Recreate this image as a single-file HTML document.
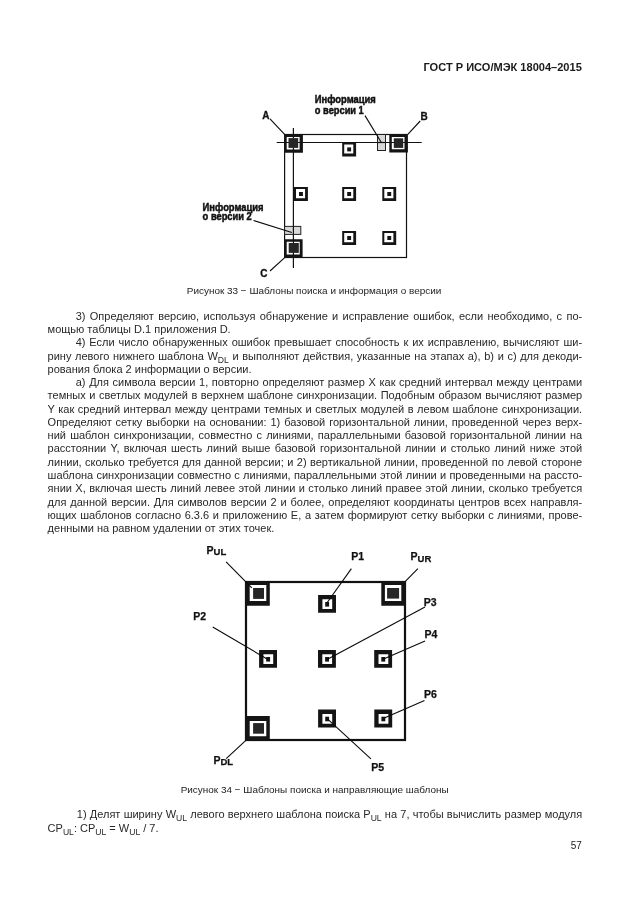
<!DOCTYPE html>
<html><head><meta charset="utf-8">
<style>
html,body{margin:0;padding:0;background:#fff;}
body{width:630px;height:913px;position:relative;overflow:hidden;font-family:"Liberation Sans",sans-serif;color:#282828;}
.ln{position:absolute;white-space:nowrap;font-size:11px;line-height:13.27px;height:13.27px;}
.ln.j{text-align:justify;text-align-last:justify;white-space:normal;}
.ln.l{text-align:left;}
sub{font-size:8.6px;vertical-align:baseline;position:relative;top:3.2px;line-height:0;}
.hdr{position:absolute;font-weight:bold;font-size:11.05px;line-height:13px;white-space:nowrap;color:#1a1a1a;}
.cap{position:absolute;font-size:9.95px;line-height:12px;white-space:nowrap;color:#222;}
.pn{position:absolute;font-size:10px;line-height:12px;white-space:nowrap;color:#222;}
svg{position:absolute;left:0;top:0;}
#pg{position:absolute;left:0;top:0;width:630px;height:913px;will-change:transform;background:#fff;}
</style></head><body><div id="pg">
<div class="hdr" style="left:423.5px;top:61.2px">ГОСТ Р ИСО/МЭК 18004–2015</div>
<svg width="630" height="913" viewBox="0 0 630 913" style="font-family:'Liberation Sans',sans-serif;font-weight:bold">
<rect x="284.6" y="134.5" width="121.9" height="123" fill="none" stroke="#111" stroke-width="1.2"/>
<line x1="276.7" y1="142.5" x2="421.7" y2="142.5" stroke="#111" stroke-width="1.2" />
<line x1="293.4" y1="128" x2="293.4" y2="268" stroke="#111" stroke-width="1.2" />
<rect x="377.5" y="134.5" width="8" height="16" fill="#d8d8d8" stroke="#222" stroke-width="1"/>
<rect x="284.6" y="226.4" width="16.2" height="8" fill="#d8d8d8" stroke="#222" stroke-width="1"/>
<line x1="377.5" y1="142.5" x2="385.5" y2="142.5" stroke="#111" stroke-width="1.2" />
<line x1="293.4" y1="226.4" x2="293.4" y2="234.4" stroke="#111" stroke-width="1.2" />
<path fill="#141414" fill-rule="evenodd" d="M284.2 134.2H302.9V152.7H284.2Z M286.7 137.1H299.6V149.4H286.7Z"/>
<rect x="288.5" y="138.1" width="9.7" height="9.8" fill="#262626"/>
<path fill="#141414" fill-rule="evenodd" d="M389.3 134.1H407.9V152.6H389.3Z M391.8 136.9H404.5V149.2H391.8Z"/>
<rect x="393.8" y="138.3" width="9.4" height="9.6" fill="#262626"/>
<path fill="#141414" fill-rule="evenodd" d="M284.2 239.2H302.6V257.8H284.2Z M286.7 241.8H299.7V254.4H286.7Z"/>
<rect x="288.7" y="243" width="10.1" height="9.9" fill="#262626"/>
<path fill="#141414" fill-rule="evenodd" d="M342.2 142.4H356.1V156.5H342.2Z M344.2 144.5H353.3V153.6H344.2Z"/><rect x="347.2" y="147.4" width="3.9" height="4.0" fill="#141414"/>
<path fill="#141414" fill-rule="evenodd" d="M294.0 187.0H307.9V201.1H294.0Z M296.0 189.1H305.1V198.2H296.0Z"/><rect x="299.0" y="192.0" width="3.9" height="4.0" fill="#141414"/>
<path fill="#141414" fill-rule="evenodd" d="M342.2 187.0H356.1V201.1H342.2Z M344.2 189.1H353.3V198.2H344.2Z"/><rect x="347.2" y="192.0" width="3.9" height="4.0" fill="#141414"/>
<path fill="#141414" fill-rule="evenodd" d="M382.3 187.0H396.2V201.1H382.3Z M384.3 189.1H393.4V198.2H384.3Z"/><rect x="387.3" y="192.0" width="3.9" height="4.0" fill="#141414"/>
<path fill="#141414" fill-rule="evenodd" d="M342.2 231.0H356.1V245.1H342.2Z M344.2 233.1H353.3V242.2H344.2Z"/><rect x="347.2" y="236.0" width="3.9" height="4.0" fill="#141414"/>
<path fill="#141414" fill-rule="evenodd" d="M382.3 231.0H396.2V245.1H382.3Z M384.3 233.1H393.4V242.2H384.3Z"/><rect x="387.3" y="236.0" width="3.9" height="4.0" fill="#141414"/>
<line x1="270" y1="118.8" x2="284.6" y2="134.4" stroke="#0a0a0a" stroke-width="1.1" />
<line x1="420.2" y1="121" x2="407.8" y2="134.3" stroke="#0a0a0a" stroke-width="1.1" />
<line x1="270" y1="271" x2="284.4" y2="257.8" stroke="#0a0a0a" stroke-width="1.1" />
<line x1="365" y1="115.6" x2="381.2" y2="142.3" stroke="#0a0a0a" stroke-width="1.1" />
<line x1="253.5" y1="220.4" x2="291.8" y2="232.4" stroke="#0a0a0a" stroke-width="1.1" />
<g fill="#111" stroke="#111" stroke-width="0.3" font-size="10">
<text x="262.2" y="118.6">A</text><text x="420.6" y="119.6">B</text><text x="260.3" y="277.3">C</text>
</g>
<g fill="#111" stroke="#111" stroke-width="0.45" font-size="10" lengthAdjust="spacingAndGlyphs">
<text x="314.8" y="102.8" textLength="61" lengthAdjust="spacingAndGlyphs">Информация</text><text x="314.8" y="113.5" textLength="49" lengthAdjust="spacingAndGlyphs">о версии 1</text>
<text x="202.6" y="210.6" textLength="61" lengthAdjust="spacingAndGlyphs">Информация</text><text x="202.6" y="220.2" textLength="49.2" lengthAdjust="spacingAndGlyphs">о версии 2</text>
</g>
<rect x="246" y="582" width="159" height="158" fill="none" stroke="#111" stroke-width="2.2"/>
<path fill="#141414" fill-rule="evenodd" d="M245.2 581.1H269.8V605.7H245.2Z M249.7 584.9H266.3V601.1H249.7Z"/>
<rect x="253.1" y="588" width="10.9" height="10.9" fill="#262626"/>
<path fill="#141414" fill-rule="evenodd" d="M381.3 581.1H405.8V605.7H381.3Z M384.9 584.9H401.3V601.1H384.9Z"/>
<rect x="387.1" y="588" width="12.0" height="10.6" fill="#262626"/>
<path fill="#141414" fill-rule="evenodd" d="M245.2 716H269.8V740.3H245.2Z M249.7 720.9H266.3V736.3H249.7Z"/>
<rect x="253.1" y="723.1" width="10.9" height="10.6" fill="#262626"/>
<path fill="#141414" fill-rule="evenodd" d="M318.1 594.9H336.0V612.7H318.1Z M322.4 599.3H332.2V609.0H322.4Z"/><rect x="325.2" y="602.0" width="3.9" height="4.6" fill="#141414"/>
<path fill="#141414" fill-rule="evenodd" d="M259.1 649.9H277.0V667.7H259.1Z M263.4 654.3H273.2V664.0H263.4Z"/><rect x="266.2" y="657.0" width="3.9" height="4.6" fill="#141414"/>
<path fill="#141414" fill-rule="evenodd" d="M318.0 649.9H335.9V667.7H318.0Z M322.3 654.3H332.1V664.0H322.3Z"/><rect x="325.1" y="657.0" width="3.9" height="4.6" fill="#141414"/>
<path fill="#141414" fill-rule="evenodd" d="M374.2 649.9H392.1V667.7H374.2Z M378.5 654.3H388.3V664.0H378.5Z"/><rect x="381.3" y="657.0" width="3.9" height="4.6" fill="#141414"/>
<path fill="#141414" fill-rule="evenodd" d="M318.1 709.6H336.0V727.4H318.1Z M322.4 714.0H332.2V723.7H322.4Z"/><rect x="325.2" y="716.7" width="3.9" height="4.6" fill="#141414"/>
<path fill="#141414" fill-rule="evenodd" d="M374.3 709.6H392.2V727.4H374.3Z M378.6 714.0H388.4V723.7H378.6Z"/><rect x="381.4" y="716.7" width="3.9" height="4.6" fill="#141414"/>
<line x1="226.1" y1="561.8" x2="251.8" y2="587.8" stroke="#0a0a0a" stroke-width="1.1" />
<line x1="417.9" y1="568.6" x2="405.6" y2="581.2" stroke="#0a0a0a" stroke-width="1.1" />
<line x1="226.2" y1="758.7" x2="245.6" y2="740.6" stroke="#0a0a0a" stroke-width="1.1" />
<line x1="351.4" y1="568.6" x2="327.2" y2="602.5" stroke="#0a0a0a" stroke-width="1.1" />
<line x1="212.7" y1="627" x2="267.5" y2="659.2" stroke="#0a0a0a" stroke-width="1.1" />
<line x1="425" y1="607.1" x2="327.5" y2="659.2" stroke="#0a0a0a" stroke-width="1.1" />
<line x1="425" y1="641" x2="383" y2="659.2" stroke="#0a0a0a" stroke-width="1.1" />
<line x1="370.9" y1="758.8" x2="327.2" y2="718.6" stroke="#0a0a0a" stroke-width="1.1" />
<line x1="424.5" y1="700.6" x2="383.2" y2="718.6" stroke="#0a0a0a" stroke-width="1.1" />
<g fill="#111" stroke="#111" stroke-width="0.25" font-size="10.5">
<text x="206.6" y="554">P<tspan font-size="9.5" dy="1.2">UL</tspan></text>
<text x="351.2" y="559.6">P1</text>
<text x="410.5" y="560">P<tspan font-size="9.5" dy="1.7">UR</tspan></text>
<text x="193.2" y="619.6">P2</text>
<text x="423.7" y="605.7">P3</text>
<text x="424.4" y="638.1">P4</text>
<text x="423.9" y="697.5">P6</text>
<text x="213.4" y="764.3">P<tspan font-size="9.5" dy="1.1">DL</tspan></text>
<text x="371.3" y="770.8">P5</text>
</g>
</svg>
<div class="cap" style="left:186.8px;top:285px">Рисунок 33 − Шаблоны поиска и информация о версии</div>
<div class="ln j" style="left:75.7px;top:309.75px;width:506.5px">3) Определяют версию, используя обнаружение и исправление ошибок, если необходимо, с по-</div>
<div class="ln l" style="left:47.6px;top:323.02px;width:534.6px">мощью таблицы D.1 приложения D.</div>
<div class="ln j" style="left:75.7px;top:336.29px;width:506.5px">4) Если число обнаруженных ошибок превышает способность к их исправлению, вычисляют ши-</div>
<div class="ln j" style="left:47.6px;top:349.56px;width:534.6px">рину левого нижнего шаблона W<sub>DL</sub> и выполняют действия, указанные на этапах а), b) и с) для декоди-</div>
<div class="ln l" style="left:47.6px;top:362.83px;width:534.6px">рования блока 2 информации о версии.</div>
<div class="ln j" style="left:75.7px;top:376.10px;width:506.5px">а) Для символа версии 1, повторно определяют размер X как средний интервал между центрами</div>
<div class="ln j" style="left:47.6px;top:389.37px;width:534.6px">темных и светлых модулей в верхнем шаблоне синхронизации. Подобным образом вычисляют размер</div>
<div class="ln j" style="left:47.6px;top:402.64px;width:534.6px">Y как средний интервал между центрами темных и светлых модулей в левом шаблоне синхронизации.</div>
<div class="ln j" style="left:47.6px;top:415.91px;width:534.6px">Определяют сетку выборки на основании: 1) базовой горизонтальной линии, проведенной через верх-</div>
<div class="ln j" style="left:47.6px;top:429.18px;width:534.6px">ний шаблон синхронизации, совместно с линиями, параллельными базовой горизонтальной линии на</div>
<div class="ln j" style="left:47.6px;top:442.45px;width:534.6px">расстоянии Y, включая шесть линий выше базовой горизонтальной линии и столько линий ниже этой</div>
<div class="ln j" style="left:47.6px;top:455.72px;width:534.6px">линии, сколько требуется для данной версии; и 2) вертикальной линии, проведенной по левой стороне</div>
<div class="ln j" style="left:47.6px;top:468.99px;width:534.6px">шаблона синхронизации совместно с линиями, параллельными этой линии и проведенными на рассто-</div>
<div class="ln j" style="left:47.6px;top:482.26px;width:534.6px">янии X, включая шесть линий левее этой линии и столько линий правее этой линии, сколько требуется</div>
<div class="ln j" style="left:47.6px;top:495.53px;width:534.6px">для данной версии. Для символов версии 2 и более, определяют координаты центров всех направля-</div>
<div class="ln j" style="left:47.6px;top:508.80px;width:534.6px">ющих шаблонов согласно 6.3.6 и приложению E, а затем формируют сетку выборки с линиями, прове-</div>
<div class="ln l" style="left:47.6px;top:522.07px;width:534.6px">денными на равном удалении от этих точек.</div>
<div class="cap" style="left:180.7px;top:783.8px">Рисунок 34 − Шаблоны поиска и направляющие шаблоны</div>
<div class="ln j" style="left:76.8px;top:807.55px;width:505.4px">1) Делят ширину W<sub>UL</sub> левого верхнего шаблона поиска P<sub>UL</sub> на 7, чтобы вычислить размер модуля</div>
<div class="ln l" style="left:47.6px;top:821.55px;width:534.6px">CP<sub>UL</sub>: CP<sub>UL</sub> = W<sub>UL</sub> / 7.</div>
<div class="pn" style="left:570.8px;top:839.5px">57</div>
</div></body></html>
